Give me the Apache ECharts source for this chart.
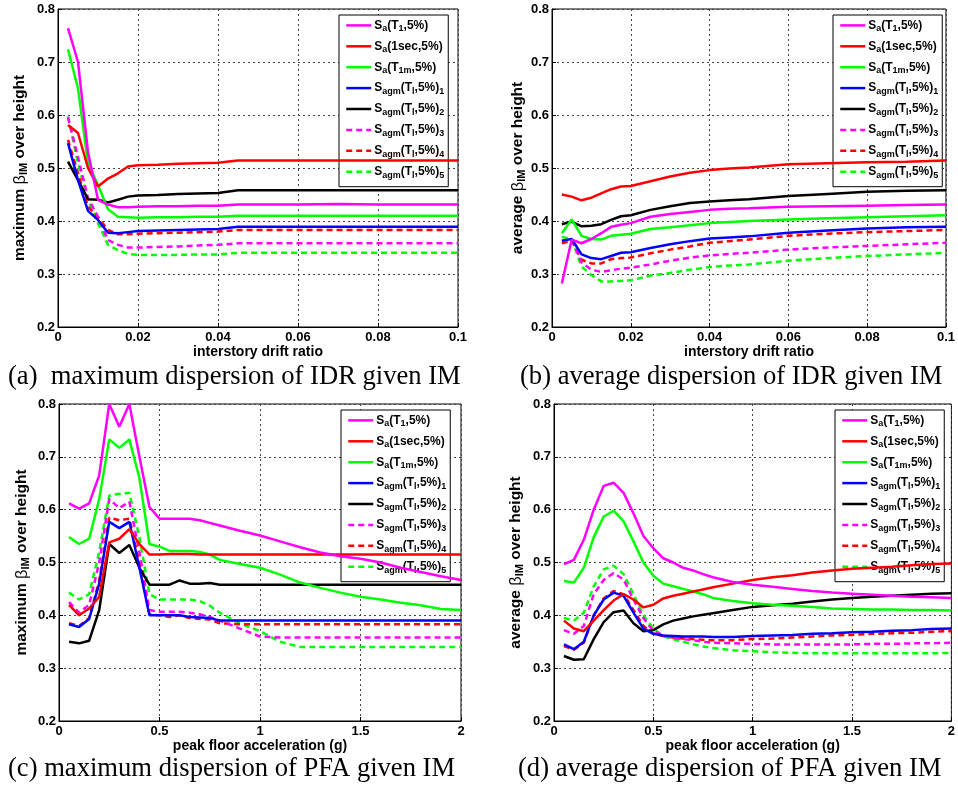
<!DOCTYPE html>
<html><head><meta charset="utf-8">
<script src="https://cdn.jsdelivr.net/npm/echarts@6/dist/echarts.min.js"></script>
<style>html,body{margin:0;padding:0;background:#fff}#c{width:958px;height:791px}</style>
</head><body><div id="c"></div>
<script>
// ---------- data ----------
const idrX = [0.0025,0.005,0.0075,0.01,0.0125,0.015,0.0175,0.02,0.025,0.03,0.035,0.04,0.045,0.05,0.06,0.07,0.08,0.09,0.1];
const pfaX = [0.05,0.1,0.15,0.2,0.25,0.3,0.35,0.4,0.45,0.5,0.55,0.6,0.65,0.7,0.75,0.8,0.9,1.0,1.1,1.2,1.3,1.4,1.5,1.6,1.7,1.8,1.9,2.0];

const seriesNames = ['Sa(T1,5%)','Sa(1sec,5%)','Sa(T1m,5%)','Sagm(Tl,5%)1','Sagm(Tl,5%)2','Sagm(Tl,5%)3','Sagm(Tl,5%)4','Sagm(Tl,5%)5'];
const seriesColors = ['#ff00ff','#ff0000','#00ff00','#0000ff','#000000','#ff00ff','#ff0000','#00ff00'];
const seriesDashed = [false,false,false,false,false,true,true,true];

// (a) maximum dispersion of IDR
const a_sa1    = [0.764,0.70,0.53,0.44,0.431,0.426,0.426,0.427,0.428,0.428,0.429,0.429,0.431,0.431,0.431,0.432,0.431,0.431,0.431];
const a_sa1sec = [0.581,0.566,0.50,0.465,0.48,0.49,0.503,0.505,0.506,0.508,0.509,0.510,0.514,0.514,0.514,0.514,0.514,0.514,0.514];
const a_sa1m   = [0.724,0.65,0.509,0.468,0.422,0.408,0.407,0.406,0.407,0.407,0.408,0.408,0.41,0.41,0.41,0.41,0.41,0.41,0.41];
const a_agm1   = [0.547,0.477,0.419,0.402,0.378,0.377,0.379,0.381,0.382,0.383,0.384,0.385,0.389,0.389,0.389,0.389,0.389,0.389,0.389];
const a_agm2   = [0.512,0.477,0.441,0.44,0.435,0.44,0.446,0.448,0.449,0.451,0.452,0.453,0.458,0.458,0.458,0.458,0.458,0.458,0.458];
const a_agm3   = [0.596,0.52,0.443,0.408,0.364,0.355,0.35,0.35,0.351,0.352,0.354,0.355,0.358,0.358,0.358,0.358,0.358,0.358,0.358];
const a_agm4   = [0.553,0.49,0.427,0.407,0.383,0.375,0.375,0.376,0.377,0.378,0.379,0.38,0.383,0.383,0.383,0.383,0.383,0.383,0.383];
const a_agm5   = [0.597,0.509,0.44,0.396,0.355,0.345,0.338,0.336,0.336,0.336,0.337,0.337,0.34,0.34,0.34,0.34,0.34,0.34,0.34];

// (b) average dispersion of IDR
const b_sa1    = [0.282,0.365,0.358,0.366,0.377,0.389,0.393,0.396,0.408,0.413,0.417,0.421,0.423,0.424,0.427,0.428,0.429,0.43,0.431];
const b_sa1sec = [0.45,0.446,0.439,0.444,0.452,0.46,0.465,0.466,0.475,0.484,0.491,0.496,0.499,0.501,0.507,0.509,0.511,0.512,0.514];
const b_sa1m   = [0.377,0.403,0.372,0.366,0.365,0.372,0.374,0.376,0.385,0.388,0.392,0.396,0.398,0.4,0.403,0.405,0.407,0.409,0.411];
const b_agm1   = [0.363,0.366,0.337,0.33,0.328,0.334,0.34,0.341,0.349,0.356,0.362,0.367,0.369,0.371,0.378,0.382,0.386,0.388,0.389];
const b_agm2   = [0.394,0.399,0.39,0.391,0.394,0.402,0.409,0.411,0.421,0.428,0.434,0.437,0.439,0.441,0.447,0.451,0.455,0.457,0.458];
const b_agm3   = [0.362,0.365,0.322,0.308,0.304,0.307,0.31,0.312,0.318,0.325,0.331,0.335,0.338,0.34,0.346,0.35,0.353,0.356,0.359];
const b_agm4   = [0.358,0.363,0.327,0.32,0.32,0.328,0.33,0.331,0.339,0.346,0.352,0.359,0.362,0.365,0.372,0.376,0.379,0.381,0.383];
const b_agm5   = [0.37,0.366,0.314,0.298,0.286,0.286,0.287,0.288,0.297,0.302,0.308,0.313,0.316,0.318,0.325,0.33,0.334,0.337,0.34];

// (c) maximum dispersion of PFA
const c_sa1    = [0.612,0.602,0.612,0.665,0.80,0.757,0.80,0.70,0.605,0.583,0.583,0.583,0.583,0.58,0.575,0.57,0.56,0.551,0.54,0.529,0.519,0.512,0.507,0.50,0.49,0.482,0.474,0.467];
const c_sa1sec = [0.42,0.40,0.413,0.435,0.538,0.545,0.563,0.535,0.515,0.515,0.516,0.516,0.516,0.515,0.515,0.515,0.515,0.515,0.515,0.515,0.515,0.515,0.515,0.515,0.515,0.515,0.515,0.515];
const c_sa1m   = [0.548,0.535,0.545,0.62,0.733,0.717,0.733,0.66,0.535,0.53,0.522,0.522,0.522,0.52,0.515,0.505,0.497,0.49,0.477,0.462,0.452,0.443,0.435,0.43,0.424,0.419,0.412,0.41];
const c_agm1   = [0.383,0.378,0.393,0.46,0.577,0.565,0.577,0.49,0.4,0.4,0.4,0.4,0.397,0.396,0.395,0.39,0.39,0.39,0.39,0.39,0.39,0.39,0.39,0.39,0.39,0.39,0.39,0.39];
const c_agm2   = [0.35,0.347,0.352,0.41,0.535,0.518,0.533,0.49,0.458,0.458,0.458,0.466,0.46,0.46,0.461,0.458,0.458,0.458,0.458,0.458,0.458,0.458,0.458,0.458,0.458,0.458,0.458,0.458];
const c_agm3   = [0.425,0.405,0.42,0.5,0.62,0.603,0.615,0.52,0.41,0.407,0.407,0.407,0.405,0.402,0.397,0.39,0.375,0.36,0.358,0.358,0.358,0.358,0.358,0.358,0.358,0.358,0.358,0.358];
const c_agm4   = [0.385,0.38,0.395,0.465,0.585,0.58,0.583,0.5,0.402,0.4,0.397,0.4,0.395,0.393,0.392,0.385,0.383,0.383,0.383,0.383,0.383,0.383,0.383,0.383,0.383,0.383,0.383,0.383];
const c_agm5   = [0.443,0.43,0.44,0.52,0.627,0.63,0.632,0.548,0.44,0.43,0.43,0.43,0.43,0.427,0.418,0.405,0.385,0.37,0.35,0.34,0.34,0.34,0.34,0.34,0.34,0.34,0.34,0.34];

// (d) average dispersion of PFA
const d_sa1    = [0.497,0.505,0.543,0.6,0.645,0.651,0.632,0.593,0.55,0.527,0.508,0.5,0.49,0.485,0.478,0.472,0.463,0.458,0.454,0.45,0.446,0.443,0.441,0.439,0.437,0.435,0.434,0.433];
const d_sa1sec = [0.39,0.375,0.37,0.39,0.41,0.428,0.44,0.43,0.415,0.42,0.432,0.437,0.441,0.445,0.449,0.453,0.46,0.467,0.472,0.476,0.481,0.485,0.488,0.49,0.492,0.495,0.497,0.498];
const d_sa1m   = [0.465,0.462,0.49,0.548,0.587,0.598,0.578,0.54,0.5,0.475,0.46,0.455,0.45,0.445,0.44,0.433,0.427,0.423,0.42,0.418,0.416,0.413,0.412,0.411,0.411,0.41,0.41,0.409];
const d_agm1   = [0.345,0.336,0.35,0.4,0.43,0.443,0.437,0.405,0.375,0.365,0.362,0.361,0.36,0.36,0.36,0.359,0.359,0.361,0.362,0.363,0.365,0.366,0.368,0.369,0.371,0.372,0.374,0.375];
const d_agm2   = [0.323,0.316,0.317,0.355,0.387,0.406,0.409,0.385,0.37,0.372,0.383,0.39,0.394,0.398,0.401,0.404,0.41,0.416,0.419,0.422,0.426,0.43,0.433,0.435,0.437,0.439,0.441,0.442];
const d_agm3   = [0.372,0.365,0.38,0.44,0.467,0.48,0.468,0.43,0.395,0.37,0.362,0.357,0.355,0.353,0.35,0.348,0.347,0.346,0.345,0.345,0.345,0.345,0.345,0.346,0.346,0.347,0.347,0.348];
const d_agm4   = [0.342,0.335,0.348,0.4,0.432,0.446,0.44,0.41,0.38,0.365,0.361,0.358,0.356,0.355,0.354,0.353,0.353,0.355,0.356,0.358,0.36,0.362,0.363,0.365,0.366,0.367,0.369,0.37];
const d_agm5   = [0.395,0.39,0.405,0.455,0.487,0.494,0.478,0.44,0.4,0.375,0.36,0.355,0.35,0.345,0.341,0.338,0.334,0.332,0.33,0.329,0.328,0.328,0.328,0.328,0.328,0.328,0.328,0.329];

const yTicks = [0.2,0.3,0.4,0.5,0.6,0.7,0.8];
const captions = ['(a)  maximum dispersion of IDR given IM','(b) average dispersion of IDR given IM','(c) maximum dispersion of PFA given IM','(d) average dispersion of PFA given IM'];
const xNames = ['interstory drift ratio','interstory drift ratio','peak floor acceleration (g)','peak floor acceleration (g)'];
const yNames = ['maximum','average','maximum','average'];

// ---------- build ----------
const SANS = 'Liberation Sans, Arial, Helvetica, sans-serif';
const SERIF = 'Liberation Serif, Times New Roman, serif';
const panels = [
  {x: idrX, ys: [a_sa1,a_sa1sec,a_sa1m,a_agm1,a_agm2,a_agm3,a_agm4,a_agm5], max: 0.1, interval: 0.02},
  {x: idrX, ys: [b_sa1,b_sa1sec,b_sa1m,b_agm1,b_agm2,b_agm3,b_agm4,b_agm5], max: 0.1, interval: 0.02},
  {x: pfaX, ys: [c_sa1,c_sa1sec,c_sa1m,c_agm1,c_agm2,c_agm3,c_agm4,c_agm5], max: 2, interval: 0.5},
  {x: pfaX, ys: [d_sa1,d_sa1sec,d_sa1m,d_agm1,d_agm2,d_agm3,d_agm4,d_agm5], max: 2, interval: 0.5}
];
const gridPos = [
  {left: 58, top: 9, width: 400, height: 318},
  {left: 552, top: 9, width: 400, height: 318},
  {left: 59, top: 404, width: 402, height: 317},
  {left: 554, top: 404, width: 401, height: 317}
];
const legendPos = [{left: 339, top: 15},{left: 833, top: 15},{left: 341, top: 410},{left: 835, top: 410}];
const captionPos = [{left: 8, top: 364},{left: 520, top: 364},{left: 8, top: 756},{left: 518, top: 756}];
const yNameGap = [29, 25, 28, 29];

const legendRich = {
  'Sa(T1,5%)': '{b|S}{s|a}{b|(T}{s|1}{b|,5%)}',
  'Sa(1sec,5%)': '{b|S}{s|a}{b|(1sec,5%)}',
  'Sa(T1m,5%)': '{b|S}{s|a}{b|(T}{s|1m}{b|,5%)}',
  'Sagm(Tl,5%)1': '{b|S}{s|agm}{b|(T}{s|l}{b|,5%)}{s|1}',
  'Sagm(Tl,5%)2': '{b|S}{s|agm}{b|(T}{s|l}{b|,5%)}{s|2}',
  'Sagm(Tl,5%)3': '{b|S}{s|agm}{b|(T}{s|l}{b|,5%)}{s|3}',
  'Sagm(Tl,5%)4': '{b|S}{s|agm}{b|(T}{s|l}{b|,5%)}{s|4}',
  'Sagm(Tl,5%)5': '{b|S}{s|agm}{b|(T}{s|l}{b|,5%)}{s|5}'
};

const option = {
  backgroundColor: '#fff',
  animation: false,
  title: captions.map((t, i) => ({
    text: t, left: captionPos[i].left, top: captionPos[i].top, padding: 0,
    textStyle: {fontFamily: SERIF, fontSize: 26.6, fontWeight: 'normal', color: '#000'}
  })),
  grid: gridPos.map(g => Object.assign({show: true, borderColor: '#000', borderWidth: 1, backgroundColor: '#fff', containLabel: false}, g)),
  legend: legendPos.map((p, i) => ({
    left: p.left, top: p.top, orient: 'vertical',
    data: seriesNames,
    itemWidth: 25, itemHeight: 16, itemGap: 6.5,
    padding: [4, 4, 7, 6],
    borderColor: '#000', borderWidth: 1, backgroundColor: '#fff',
    selectedMode: false,
    lineStyle: {width: 2.5},
    itemStyle: {opacity: 0},
    formatter: n => legendRich[n],
    textStyle: {
      color: '#000', padding: [0, 0, 0, -2],
      rich: {
        b: {fontFamily: SANS, fontSize: 12, fontWeight: 'bold', color: '#000', lineHeight: 16},
        s: {fontFamily: SANS, fontSize: 9, fontWeight: 'bold', color: '#000', lineHeight: 8, verticalAlign: 'bottom'}
      }
    }
  })),
  xAxis: panels.map((p, i) => ({
    gridIndex: i, type: 'value', min: 0, max: p.max, interval: p.interval,
    name: xNames[i], nameLocation: 'middle', nameGap: 18,
    nameTextStyle: {fontFamily: SANS, fontSize: 14, fontWeight: 'bold', color: '#000'},
    axisLine: {lineStyle: {color: '#000', width: 1}},
    axisTick: {inside: true, length: 4, lineStyle: {color: '#000'}},
    axisLabel: {fontFamily: SANS, fontSize: 13, fontWeight: 'bold', color: '#000', margin: 4, showMaxLabel: true, showMinLabel: true},
    splitLine: {show: true, lineStyle: {color: '#444', type: [2, 3], width: 1}}
  })),
  yAxis: panels.map((p, i) => ({
    gridIndex: i, type: 'value', min: yTicks[0], max: yTicks[yTicks.length - 1], interval: 0.1,
    name: '{b|' + yNames[i] + ' }{g|β}{s|IM}{b| over height}', nameLocation: 'middle', nameGap: yNameGap[i],
    nameTextStyle: {
      color: '#000',
      rich: {
        b: {fontFamily: SANS, fontSize: 15.5, fontWeight: 'bold', color: '#000', lineHeight: 18},
        g: {fontFamily: SANS, fontSize: 16.5, fontWeight: 'normal', color: '#000', lineHeight: 18},
        s: {fontFamily: SANS, fontSize: 11, fontWeight: 'bold', color: '#000', lineHeight: 8, verticalAlign: 'bottom'}
      }
    },
    axisLine: {lineStyle: {color: '#000', width: 1}},
    axisTick: {inside: true, length: 4, lineStyle: {color: '#000'}},
    axisLabel: {fontFamily: SANS, fontSize: 13, fontWeight: 'bold', color: '#000', margin: 3,
      formatter: v => v.toFixed(1)},
    splitLine: {show: true, lineStyle: {color: '#444', type: [2, 3], width: 1}}
  })),
  series: []
};

panels.forEach((p, pi) => {
  p.ys.forEach((ys, si) => {
    option.series.push({
      type: 'line', name: seriesNames[si], xAxisIndex: pi, yAxisIndex: pi,
      data: p.x.map((x, k) => [x, ys[k]]),
      symbol: 'none', smooth: false, clip: true,
      lineStyle: {color: seriesColors[si], width: 2.5, type: seriesDashed[si] ? [6, 4] : 'solid'},
      itemStyle: {color: seriesColors[si]},
      z: 2 + (8 - si)
    });
  });
});

const chart = echarts.init(document.getElementById('c'), null, {renderer: 'canvas'});
chart.setOption(option);
</script>
</body></html>
